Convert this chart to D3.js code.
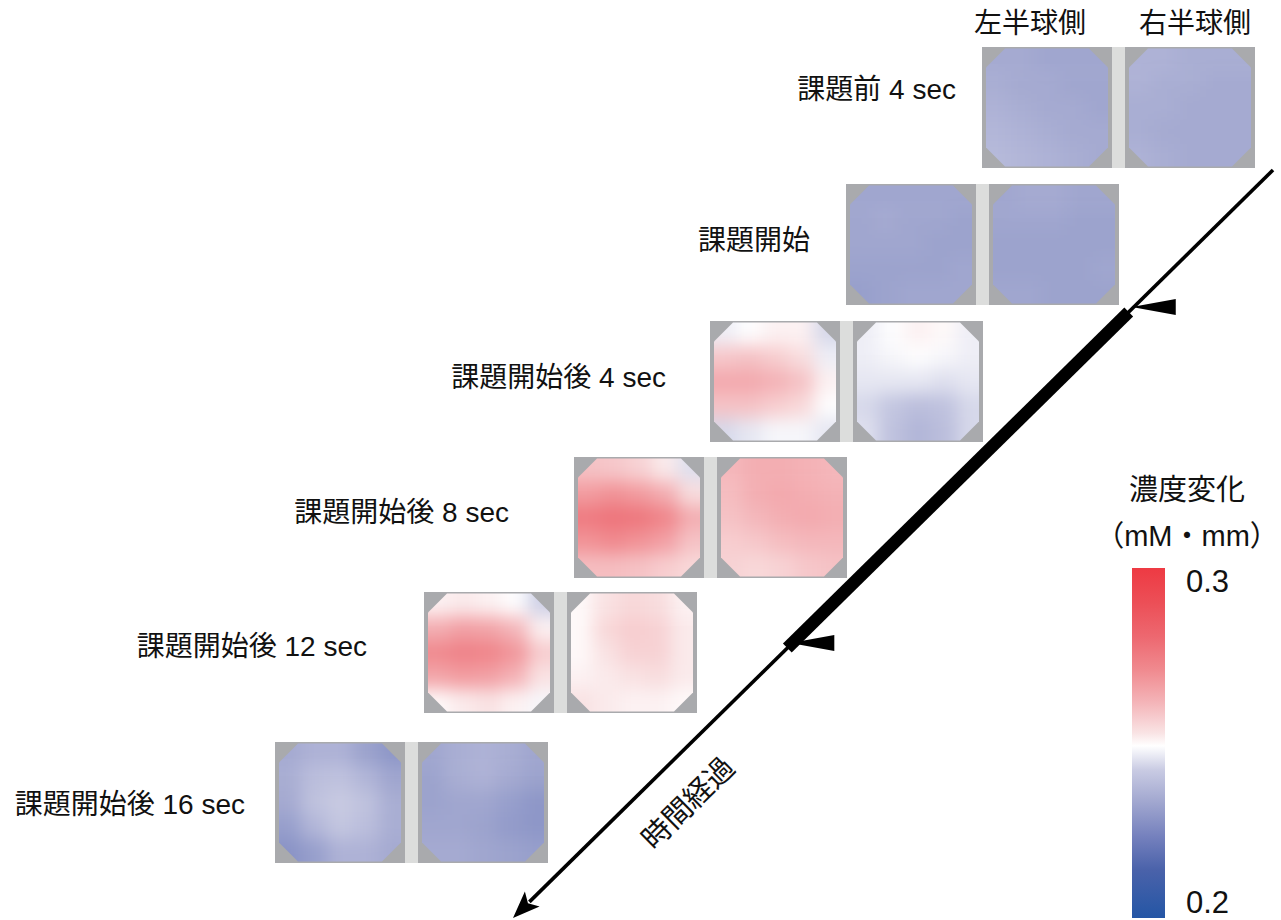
<!DOCTYPE html>
<html>
<head>
<meta charset="utf-8">
<script src="https://cdn.jsdelivr.net/npm/d3@7"></script>
<style>
body { margin: 0; background: #fff; }
text { font-family: "Liberation Sans", "Noto Sans CJK JP", sans-serif; fill: #111; }
</style>
</head>
<body>
<div id="chart"></div>
<script>
// ---- data ----
var conditions = ["課題前 4 sec", "課題開始", "課題開始後 4 sec", "課題開始後 8 sec", "課題開始後 12 sec", "課題開始後 16 sec"];
var hemispheres = ["左半球側", "右半球側"];
var timeLabel = "時間経過";
var unitTitle = "濃度変化";
var unitLabel = "（mM・mm）";
var scaleTicks = [0.2, 0.3];

// concentration change maps, 5x5 coarse grid, rows top -> bottom
var pre4Left = [[.234,.234,.233,.233,.233],[.235,.234,.234,.233,.233],[.236,.235,.234,.234,.233],[.237,.236,.235,.234,.234],[.238,.237,.236,.235,.234]];
var pre4Right = [[.236,.236,.235,.235,.235],[.236,.235,.235,.234,.234],[.235,.235,.234,.234,.234],[.235,.234,.234,.234,.234],[.236,.235,.234,.234,.234]];
var startLeft = [[.233,.233,.233,.233,.233],[.233,.234,.233,.233,.232],[.233,.233,.233,.232,.232],[.232,.232,.232,.232,.233],[.231,.232,.233,.233,.233]];
var startRight = [[.233,.234,.234,.233,.233],[.233,.233,.233,.232,.232],[.232,.232,.232,.232,.232],[.232,.232,.232,.232,.233],[.233,.233,.232,.232,.232]];
var post4Left = [[.247,.249,.251,.251,.244],[.258,.259,.257,.254,.247],[.264,.264,.262,.259,.251],[.259,.259,.257,.255,.249],[.244,.246,.248,.248,.246]];
var post4Right = [[.247,.249,.251,.250,.247],[.247,.248,.249,.248,.247],[.246,.246,.246,.245,.246],[.244,.241,.239,.240,.244],[.245,.240,.237,.239,.244]];
var post8Left = [[.259,.258,.256,.252,.245],[.267,.269,.267,.263,.254],[.275,.277,.276,.272,.263],[.269,.271,.269,.266,.259],[.260,.260,.259,.257,.255]];
var post8Right = [[.261,.263,.263,.262,.261],[.260,.263,.264,.263,.262],[.259,.261,.263,.264,.263],[.257,.258,.260,.261,.261],[.256,.255,.256,.258,.259]];
var post12Left = [[.251,.252,.251,.249,.243],[.263,.266,.265,.261,.251],[.271,.273,.272,.268,.257],[.265,.267,.266,.262,.253],[.250,.252,.253,.251,.248]];
var post12Right = [[.250,.253,.255,.254,.251],[.250,.255,.257,.256,.252],[.250,.253,.256,.256,.252],[.251,.252,.253,.254,.252],[.253,.252,.251,.251,.250]];
var post16Left = [[.234,.236,.236,.232,.229],[.235,.239,.240,.237,.233],[.234,.240,.242,.240,.235],[.231,.237,.241,.239,.235],[.228,.231,.236,.236,.234]];
var post16Right = [[.233,.235,.236,.235,.233],[.232,.235,.236,.234,.232],[.232,.233,.233,.231,.229],[.233,.233,.232,.230,.229],[.234,.234,.233,.232,.231]];

var maps = [
    [pre4Left, pre4Right],
    [startLeft, startRight],
    [post4Left, post4Right],
    [post8Left, post8Right],
    [post12Left, post12Right],
    [post16Left, post16Right]
];

// ---- layout / style ----
var width = 1281, height = 920;
var rowX = [982, 846, 710, 574, 424, 275];
var rowY = [47, 184, 321, 457, 592, 742];
var labelX = [956, 810, 666, 509, 367, 245];
var labelY = [99, 250, 387, 522, 656, 814];
var sqW = 130, sqH = 121, sepW = 13;

var colorDomain = [0.2, 0.2137, 0.2231, 0.2329, 0.2423, 0.2492, 0.2529, 0.2614, 0.2709, 0.2803, 0.29, 0.3];
var colorRange = ["#2456a5", "#4a62aa", "#7480bd", "#a0a6cf", "#c9cbe3", "#ffffff", "#f9e3e4", "#f4b5b9", "#f08a8f", "#ed6870", "#ec4f57", "#ee3a43"];
var color = d3.scaleLinear().domain(colorDomain).range(colorRange).clamp(true);

var svg = d3.select("#chart")
    .append("svg")
    .attr("width", width)
    .attr("height", height);

var defs = svg.append("defs");

// smoothing filter for the coarse grid
defs.append("filter")
    .attr("id", "smooth")
    .attr("color-interpolation-filters", "sRGB")
    .append("feGaussianBlur").attr("stdDeviation", 8.5);

var nCells = 5, ext = 32;
var gx = d3.scaleBand().domain(d3.range(nCells)).range([0, sqW]);
var gy = d3.scaleBand().domain(d3.range(nCells)).range([0, sqH]);

var ins = { l: 4, r: 4, t: 1.5, b: 1.5 }, cut = 19;
var octagon = [
    [ins.l + cut, ins.t], [sqW - ins.r - cut, ins.t], [sqW - ins.r, ins.t + cut], [sqW - ins.r, sqH - ins.b - cut],
    [sqW - ins.r - cut, sqH - ins.b], [ins.l + cut, sqH - ins.b], [ins.l, sqH - ins.b - cut], [ins.l, ins.t + cut]
];
defs.append("clipPath").attr("id", "oct")
    .append("polygon")
    .attr("points", octagon.map(function (p) { return p.join(","); }).join(" "));

// outer cells are stretched past the square so the blur does not fade at the rim
function cellX(c) { return gx(c) - (c === 0 ? ext : 0); }
function cellW(c) { return gx.bandwidth() + (c === 0 || c === nCells - 1 ? ext : 0) + 0.5; }
function cellY(r) { return gy(r) - (r === 0 ? ext : 0); }
function cellH(r) { return gy.bandwidth() + (r === 0 || r === nCells - 1 ? ext : 0) + 0.5; }

// ---- panels ----
maps.forEach(function (pair, i) {
    var row = svg.append("g").attr("transform", "translate(" + rowX[i] + "," + rowY[i] + ")");

    row.append("rect")
        .attr("x", sqW).attr("y", 0)
        .attr("width", sepW).attr("height", sqH)
        .style("fill", "#dcdddc");

    pair.forEach(function (grid, j) {
        var sq = row.append("g").attr("transform", "translate(" + (j * (sqW + sepW)) + ",0)");
        sq.append("rect")
            .attr("width", sqW).attr("height", sqH)
            .style("fill", "#a9aaad");

        var cells = [];
        grid.forEach(function (r, ri) {
            r.forEach(function (v, ci) { cells.push({ r: ri, c: ci, v: v }); });
        });

        sq.append("g")
            .attr("clip-path", "url(#oct)")
            .append("g")
            .attr("filter", "url(#smooth)")
            .selectAll("rect")
            .data(cells)
            .enter()
            .append("rect")
            .attr("x", function (d) { return cellX(d.c); })
            .attr("y", function (d) { return cellY(d.r); })
            .attr("width", function (d) { return cellW(d.c); })
            .attr("height", function (d) { return cellH(d.r); })
            .style("fill", function (d) { return color(d.v); });
    });

    svg.append("text")
        .attr("x", labelX[i])
        .attr("y", labelY[i])
        .style("text-anchor", "end")
        .style("font-size", "28px")
        .text(conditions[i]);
});

// hemisphere headers
svg.selectAll(".hemi")
    .data(hemispheres)
    .enter()
    .append("text")
    .attr("class", "hemi")
    .attr("x", function (d, j) { return [1030, 1195][j]; })
    .attr("y", 33)
    .style("text-anchor", "middle")
    .style("font-size", "28px")
    .text(function (d) { return d; });

// ---- time arrow ----
var A = [1273, 170], B = [513, 918];
var dx = B[0] - A[0], dy = B[1] - A[1];
var len = Math.sqrt(dx * dx + dy * dy);
var ux = dx / len, uy = dy / len;
function atY(y) { var t = (y - A[1]) / dy; return [A[0] + t * dx, y]; }

var headLen = 27, headHalf = 10.5;
var neck = [B[0] - ux * headLen, B[1] - uy * headLen];
svg.append("line")
    .attr("x1", A[0]).attr("y1", A[1])
    .attr("x2", neck[0] + ux * 4).attr("y2", neck[1] + uy * 4)
    .attr("stroke", "#000")
    .attr("stroke-width", 3.6);
svg.append("polygon")
    .attr("points", [B, [neck[0] - uy * headHalf, neck[1] + ux * headHalf], [neck[0] + ux * 6, neck[1] + uy * 6], [neck[0] + uy * headHalf, neck[1] - ux * headHalf]]
        .map(function (p) { return p.join(","); }).join(" "))
    .style("fill", "#000");

// task period (thick segment) with start / end markers
var p0 = atY(312), p1 = atY(648);
svg.append("line")
    .attr("x1", p0[0]).attr("y1", p0[1])
    .attr("x2", p1[0]).attr("y2", p1[1])
    .attr("stroke", "#000")
    .attr("stroke-width", 12.5);

[p0, p1].forEach(function (p) {
    svg.append("polygon")
        .attr("points", [[p[0] + 3, p[1] - 5], [p[0] + 47, p[1] - 13], [p[0] + 47, p[1] + 3]]
            .map(function (q) { return q.join(","); }).join(" "))
        .style("fill", "#000");
});

var angle = Math.atan2(-dy, -dx) * 180 / Math.PI;
svg.append("text")
    .attr("transform", "translate(688,803) rotate(" + angle + ")")
    .style("text-anchor", "middle")
    .attr("dy", "0.35em")
    .style("font-size", "29px")
    .text(timeLabel);

// ---- colour bar ----
var cy = d3.scaleLinear().domain([0.2, 0.3]).range([918, 568]);
var grad = defs.append("linearGradient")
    .attr("id", "cbar")
    .attr("x1", 0).attr("y1", 1).attr("x2", 0).attr("y2", 0);
grad.selectAll("stop")
    .data(colorDomain)
    .enter()
    .append("stop")
    .attr("offset", function (d) { return ((d - 0.2) / 0.1 * 100) + "%"; })
    .attr("stop-color", function (d) { return color(d); });

svg.append("rect")
    .attr("x", 1132).attr("y", cy(0.3))
    .attr("width", 33).attr("height", cy(0.2) - cy(0.3))
    .style("fill", "url(#cbar)");

svg.selectAll(".tick-label")
    .data(scaleTicks)
    .enter()
    .append("text")
    .attr("class", "tick-label")
    .attr("x", 1186)
    .attr("y", function (d) { return cy(d) + (d === d3.max(scaleTicks) ? 24 : -5); })
    .style("font-size", "31px")
    .text(function (d) { return d3.format(".1f")(d); });

svg.append("text")
    .attr("x", 1187).attr("y", 500)
    .style("text-anchor", "middle")
    .style("font-size", "29px")
    .text(unitTitle);
svg.append("text")
    .attr("x", 1187).attr("y", 546)
    .style("text-anchor", "middle")
    .style("font-size", "29px")
    .text(unitLabel);
</script>
</body>
</html>
